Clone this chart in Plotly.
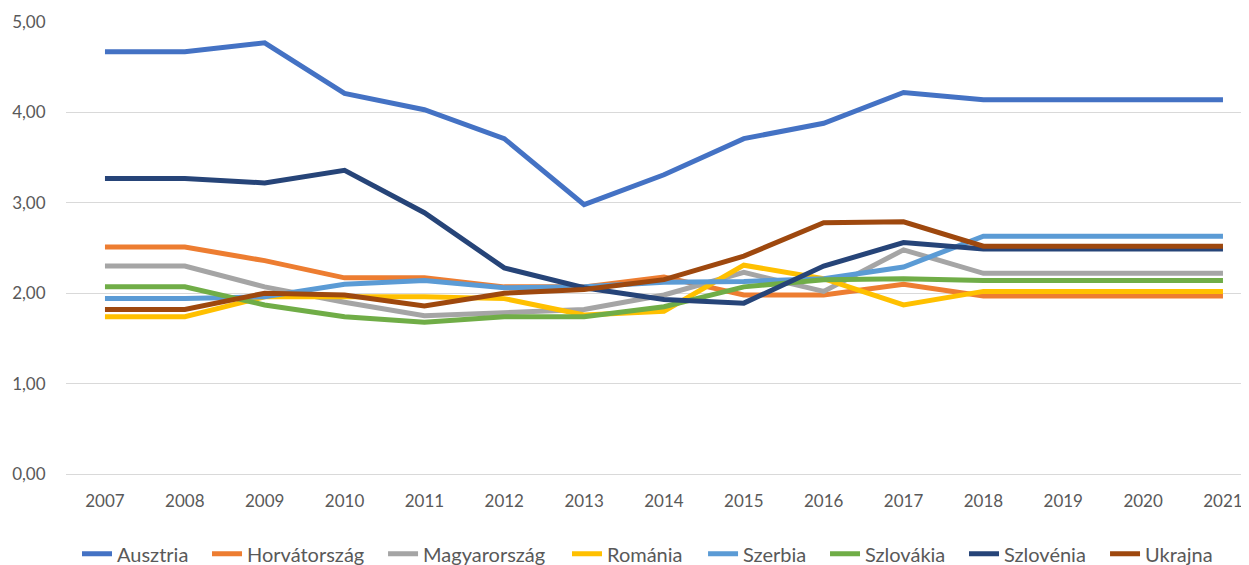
import plotly.graph_objects as go

years = list(range(2007, 2022))

ausztria     = [4.67, 4.67, 4.77, 4.21, 4.03, 3.71, 2.98, 3.31, 3.71, 3.88, 4.22, 4.14, 4.14, 4.14, 4.14]
horvatorszag = [2.51, 2.51, 2.36, 2.17, 2.17, 2.07, 2.07, 2.18, 1.98, 1.98, 2.10, 1.97, 1.97, 1.97, 1.97]
magyarorszag = [2.30, 2.30, 2.07, 1.90, 1.75, 1.78, 1.82, 1.98, 2.23, 2.02, 2.48, 2.22, 2.22, 2.22, 2.22]
romania      = [1.74, 1.74, 1.96, 1.96, 1.96, 1.94, 1.76, 1.80, 2.31, 2.16, 1.87, 2.02, 2.02, 2.02, 2.02]
szerbia      = [1.94, 1.94, 1.96, 2.10, 2.14, 2.06, 2.07, 2.12, 2.13, 2.16, 2.29, 2.63, 2.63, 2.63, 2.63]
szlovakia    = [2.07, 2.07, 1.87, 1.74, 1.68, 1.74, 1.74, 1.85, 2.07, 2.15, 2.16, 2.14, 2.14, 2.14, 2.14]
szlovenia    = [3.27, 3.27, 3.22, 3.36, 2.89, 2.28, 2.06, 1.93, 1.89, 2.30, 2.56, 2.49, 2.49, 2.49, 2.49]
ukrajna      = [1.82, 1.82, 2.00, 1.98, 1.86, 2.00, 2.04, 2.15, 2.41, 2.78, 2.79, 2.52, 2.52, 2.52, 2.52]

series_names = ["Ausztria", "Horvátország", "Magyarország", "Románia",
                "Szerbia", "Szlovákia", "Szlovénia", "Ukrajna"]
series_values = [ausztria, horvatorszag, magyarorszag, romania,
                 szerbia, szlovakia, szlovenia, ukrajna]
colors = ["#4472C4", "#ED7D31", "#A5A5A5", "#FFC000",
          "#5B9BD5", "#70AD47", "#264478", "#9E480E"]

y_ticks = [0, 1, 2, 3, 4, 5]

# layout: left edge of each legend entry (paper fraction of the plot width)
legend_x = [0.0093, 0.1192, 0.2680, 0.4235, 0.5385, 0.6416, 0.7591, 0.8783]

fig = go.Figure()
legend_layout = {}
for i, (name, vals, col) in enumerate(zip(series_names, series_values, colors)):
    lid = "legend" if i == 0 else f"legend{i + 1}"
    fig.add_trace(go.Scatter(
        x=years, y=vals, name=name, mode="lines",
        line=dict(color=col, width=5), legend=lid,
    ))
    legend_layout[lid] = dict(
        orientation="h", xref="paper", x=legend_x[i], xanchor="left",
        yref="container", y=0.02, yanchor="middle",
        font=dict(size=20, color="#595959"), itemwidth=30,
        bgcolor="rgba(0,0,0,0)",
    )

font_family = "Lato, 'Open Sans', sans-serif"
fig.update_layout(
    width=1241, height=557,
    margin=dict(l=58, r=0, t=14, b=91),
    paper_bgcolor="white", plot_bgcolor="white",
    font=dict(family=font_family, size=17, color="#595959"),
    separators=",.",
    showlegend=True,
    xaxis=dict(
        range=[2006.512, 2021.326], tickmode="array", tickvals=years,
        ticktext=[str(y) for y in years],
        showgrid=False, zeroline=False, showline=False,
        ticks="outside", ticklen=12, tickcolor="rgba(0,0,0,0)",
        tickfont=dict(size=17, color="#595959"),
    ),
    yaxis=dict(
        range=[0, 5], tickmode="array", tickvals=y_ticks,
        tickformat=".2f",
        showgrid=True, gridcolor="#D9D9D9", gridwidth=1,
        zeroline=True, zerolinecolor="#D9D9D9", zerolinewidth=1,
        showline=False,
        ticks="outside", ticklen=16, tickcolor="rgba(0,0,0,0)",
        tickfont=dict(size=17, color="#595959"),
    ),
    **legend_layout,
)

fig.write_html("out.html")
